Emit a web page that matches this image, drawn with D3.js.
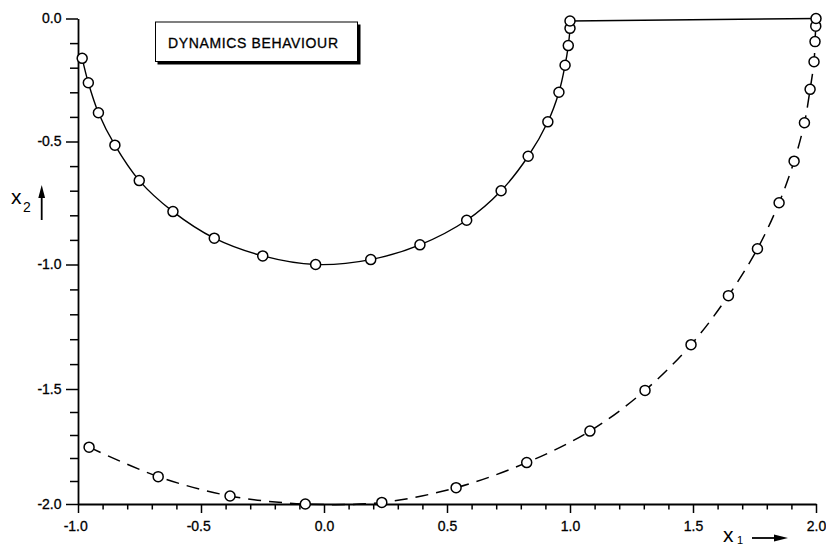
<!DOCTYPE html>
<html>
<head>
<meta charset="utf-8">
<script src="https://cdn.jsdelivr.net/npm/d3@7"></script>
<style>
body { margin: 0; background: white; }
text { font-family: "Liberation Sans", Arial, sans-serif; fill: black; }
</style>
</head>
<body>
<script>
// solid trajectory (unit circle, then sliding along x2 = 0)
var solidX = [-0.983, -0.958, -0.917, -0.850, -0.751, -0.614, -0.446, -0.249, -0.034, 0.19, 0.39, 0.58, 0.72, 0.83, 0.91, 0.955, 0.98, 0.993, 1.0, 1.0, 2.0]
var solidY = [-0.162, -0.261, -0.383, -0.515, -0.659, -0.785, -0.893, -0.965, -1.0, -0.98, -0.92, -0.82, -0.70, -0.56, -0.42, -0.30, -0.19, -0.11, -0.04, -0.01, 0.0]

// dashed trajectory
var dashedX = [-0.955, -0.674, -0.382, -0.076, 0.235, 0.537, 0.824, 1.081, 1.305, 1.492, 1.644, 1.762, 1.850, 1.911, 1.953, 1.976, 1.992, 1.996, 1.999, 2.0]
var dashedY = [-1.753, -1.881, -1.965, -2.0, -1.993, -1.929, -1.820, -1.683, -1.506, -1.322, -1.125, -0.936, -0.749, -0.580, -0.424, -0.288, -0.176, -0.094, -0.031, 0.0]

var xTicks = [-1, -0.5, 0, 0.5, 1, 1.5, 2]
var xTickLabels = ["-1.0", "-0.5", "0.0", "0.5", "1.0", "1.5", "2.0"]
var yTicks = [0, -0.5, -1, -1.5, -2]
var yTickLabels = ["0.0", "-0.5", "-1.0", "-1.5", "-2.0"]

var title = "DYNAMICS BEHAVIOUR"

function main() {
	var w = 826
	var h = 545

	var svg = d3.select("body")
		.append("svg")
		.attr("width", w)
		.attr("height", h)

	// Scales
	var xScale = d3.scaleLinear()
		.domain([-1, 2])
		.range([78, 816])

	// the scanned y axis is a bit squeezed near the bottom, so a few stops
	var yScale = d3.scaleLinear()
		.domain([-2, -1.5, -1, 0])
		.range([504, 389, 264.5, 18.5])

	var minorX = d3.range(-1, 2.001, 0.1).filter((d) => Math.abs(d * 2 - Math.round(d * 2)) > 0.01)
	var minorY = d3.range(-2, 0.001, 0.1).filter((d) => Math.abs(d * 2 - Math.round(d * 2)) > 0.01)

	// Axes
	var xAxis = d3.axisBottom(xScale)
		.tickValues(xTicks)
		.tickSize(9)
		.tickSizeOuter(0)
		.tickPadding(8.5)
		.tickFormat((d, i) => xTickLabels[i])

	var yAxis = d3.axisLeft(yScale)
		.tickValues(yTicks)
		.tickSize(12)
		.tickSizeOuter(0)
		.tickPadding(4.5)
		.tickFormat((d, i) => yTickLabels[i])

	var gx = svg.append("g")
		.attr("class", "x axis")
		.attr("transform", "translate(0," + yScale(-2) + ")")
		.call(xAxis)
	gx.selectAll("text")
		.attr("dx", (d) => d < 0 ? "-0.2em" : 0)

	svg.append("g")
		.attr("class", "x minor")
		.attr("transform", "translate(0," + yScale(-2) + ")")
		.call(d3.axisBottom(xScale).tickValues(minorX).tickSize(5.5).tickFormat(""))
		.select(".domain").remove()

	svg.append("g")
		.attr("class", "y axis")
		.attr("transform", "translate(" + xScale(-1) + ",0)")
		.call(yAxis)

	svg.append("g")
		.attr("class", "y minor")
		.attr("transform", "translate(" + xScale(-1) + ",0)")
		.call(d3.axisLeft(yScale).tickValues(minorY).tickSize(8).tickFormat(""))
		.select(".domain").remove()

	svg.selectAll(".axis, .minor")
		.attr("font-size", 14)
		.attr("font-family", "Liberation Sans, Arial, sans-serif")
	svg.selectAll(".axis .domain").attr("stroke-width", 1.8)
	svg.selectAll(".tick line").attr("stroke-width", 1.5)
	svg.selectAll(".tick text")
		.attr("fill", "black")
		.attr("stroke", "black")
		.attr("stroke-width", 0.3)

	// Lines
	var curve = d3.line()
		.x((d) => xScale(d[0]))
		.y((d) => yScale(d[1]))
		.curve(d3.curveCatmullRom.alpha(0.5))

	var straight = d3.line()
		.x((d) => xScale(d[0]))
		.y((d) => yScale(d[1]))

	var solid = solidX.map((x, i) => [x, solidY[i]])
	var dashed = dashedX.map((x, i) => [x, dashedY[i]])

	// circular arc, then the straight slide to (2, 0)
	svg.append("path")
		.datum(solid.slice(0, -1))
		.attr("d", curve)
		.attr("fill", "none")
		.attr("stroke", "black")
		.attr("stroke-width", 1.4)

	svg.append("path")
		.datum(solid.slice(-2))
		.attr("d", straight)
		.attr("fill", "none")
		.attr("stroke", "black")
		.attr("stroke-width", 1.4)

	svg.append("path")
		.datum(dashed)
		.attr("d", curve)
		.attr("fill", "none")
		.attr("stroke", "black")
		.attr("stroke-width", 1.5)
		.attr("stroke-dasharray", "13,8")

	svg.append("g")
		.selectAll("circle")
		.data(solid.slice(0, -1).concat(dashed))
		.enter()
		.append("circle")
		.attr("cx", (d) => xScale(d[0]))
		.attr("cy", (d) => yScale(d[1]))
		.attr("r", 5)
		.attr("fill", "white")
		.attr("stroke", "black")
		.attr("stroke-width", 1.5)

	// Title box with drop shadow
	svg.append("rect")
		.attr("x", 157.5)
		.attr("y", 24.5)
		.attr("width", 203)
		.attr("height", 40)
		.attr("fill", "black")
	svg.append("rect")
		.attr("x", 155.5)
		.attr("y", 22)
		.attr("width", 202)
		.attr("height", 39.5)
		.attr("fill", "white")
		.attr("stroke", "black")
		.attr("stroke-width", 1)
	svg.append("text")
		.attr("x", 168)
		.attr("y", 48)
		.attr("font-size", 14)
		.attr("stroke", "black")
		.attr("stroke-width", 0.3)
		.attr("textLength", 170)
		.attr("lengthAdjust", "spacing")
		.text(title)

	// Axis labels with arrows
	var yLabel = svg.append("g")
	yLabel.append("text")
		.attr("x", 11)
		.attr("y", 203.5)
		.attr("font-size", 21)
		.text("x")
	yLabel.append("text")
		.attr("x", 23)
		.attr("y", 211.5)
		.attr("font-size", 14)
		.text("2")
	yLabel.append("line")
		.attr("x1", 41.7).attr("x2", 41.7)
		.attr("y1", 220).attr("y2", 194)
		.attr("stroke", "black")
		.attr("stroke-width", 1.8)
	yLabel.append("path")
		.attr("d", "M41.7,185 L38.3,198 L45.1,198 Z")
		.attr("fill", "black")

	var xLabel = svg.append("g")
	xLabel.append("text")
		.attr("x", 723)
		.attr("y", 541.5)
		.attr("font-size", 21)
		.text("x")
	xLabel.append("text")
		.attr("x", 737)
		.attr("y", 544)
		.attr("font-size", 11)
		.text("1")
	xLabel.append("line")
		.attr("x1", 752).attr("x2", 778)
		.attr("y1", 538).attr("y2", 538)
		.attr("stroke", "black")
		.attr("stroke-width", 1.8)
	xLabel.append("path")
		.attr("d", "M788,538 L774,534.6 L774,541.4 Z")
		.attr("fill", "black")
}

main()
</script>
</body>
</html>
